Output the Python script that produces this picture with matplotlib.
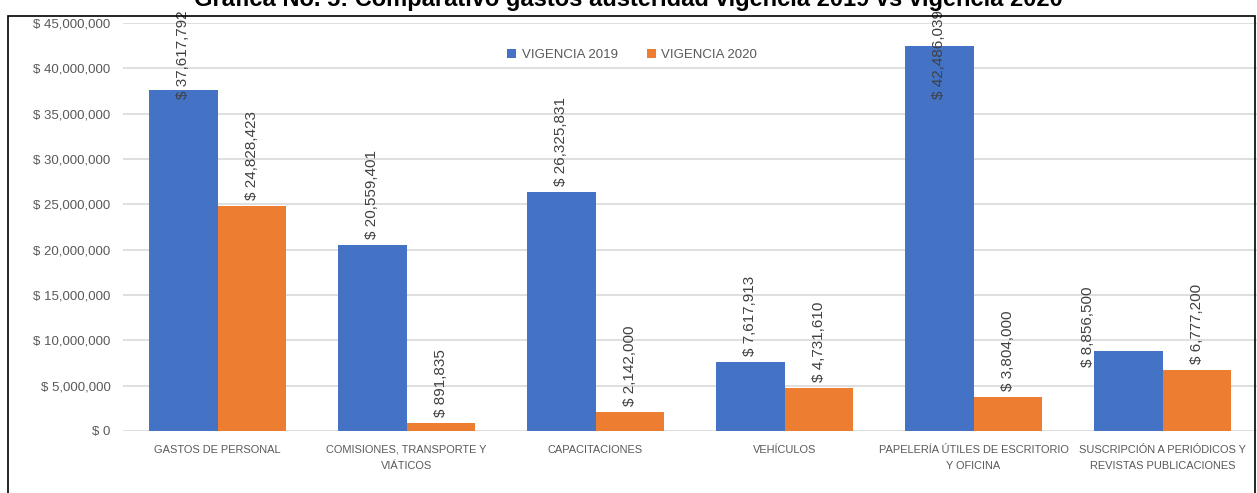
import numpy as np
import matplotlib
matplotlib.use("Agg")
from matplotlib import pyplot as plt
from matplotlib.patches import Rectangle
from matplotlib.ticker import FuncFormatter

plt.rcParams['font.family'] = ['Liberation Sans', 'DejaVu Sans']

# datos
categorias = ["GASTOS DE PERSONAL", "COMISIONES, TRANSPORTE Y\nVIÁTICOS", "CAPACITACIONES",
              "VEHÍCULOS", "PAPELERÍA ÚTILES DE ESCRITORIO\nY OFICINA",
              "SUSCRIPCIÓN A PERIÓDICOS Y\nREVISTAS PUBLICACIONES"]
vigencia_2019 = [37617792, 20559401, 26325831, 7617913, 42486039, 8856500]
vigencia_2020 = [24828423, 891835, 2142000, 4731610, 3804000, 6777200]
series = ["VIGENCIA 2019", "VIGENCIA 2020"]
titulo = "Gráfica No. 5: Comparativo gastos austeridad vigencia 2019 vs vigencia 2020"

azul = "#4472C4"
naranja = "#ED7D31"
gris = "#595959"

fig = plt.figure(figsize=(12.57, 4.93), dpi=100)
ax = fig.add_axes([123/1257, 62/493, 1 - 123/1257, 408/493])

x = np.arange(len(categorias))
w = 0.365
b1 = ax.bar(x - w/2, vigencia_2019, w, color=azul, label=series[0], zorder=3)
b2 = ax.bar(x + w/2, vigencia_2020, w, color=naranja, label=series[1], zorder=3)

ax.set_xlim(-0.5, len(categorias) - 0.5)
ax.set_ylim(0, 45000000)
ax.set_yticks(np.arange(0, 45000001, 5000000))
ax.yaxis.set_major_formatter(FuncFormatter(lambda v, p: "$ {:,.0f}".format(v)))
ax.grid(axis='y', color='#d9d9d9', linewidth=1.2, zorder=0)
for s in ax.spines.values():
    s.set_visible(False)
ax.tick_params(axis='both', length=0, colors=gris)
ax.tick_params(axis='y', pad=9, labelsize=9.5)
ax.tick_params(axis='x', pad=10, labelsize=7.9)
ax.set_xticks(x)
ax.set_xticklabels(categorias, linespacing=1.8)

# etiquetas de datos
px = 45000000 / 408.0
tope = 45000000 + 13 * px
for k, (barras, vals) in enumerate(((b1, vigencia_2019), (b2, vigencia_2020))):
    for i, (r, v) in enumerate(zip(barras, vals)):
        txt = "$ {:,.0f}".format(v)
        xc = r.get_x() + r.get_width() / 2
        largo = len(txt) * 8.0 * px
        if k == 0 and i == 5:
            # etiqueta desplazada a mano en el original
            ax.text(xc - 0.21, v - 16 * px, txt, rotation=90, ha='center', va='bottom',
                    fontsize=11, color='#404040', clip_on=False, zorder=4)
        elif v + 6 * px + largo > tope:
            ax.text(xc, tope, txt, rotation=90, ha='center', va='top',
                    fontsize=11, color='#404040', clip_on=False, zorder=4)
        else:
            ax.text(xc, v + 6 * px, txt, rotation=90, ha='center', va='bottom',
                    fontsize=11, color='#404040', clip_on=False, zorder=4)

leg = ax.legend(loc='upper center', bbox_to_anchor=(0.449, 0.965), ncol=2, frameon=False,
                fontsize=9.5, handlelength=0.7, handleheight=0.7, columnspacing=2.2,
                handletextpad=0.4)
for t in leg.get_texts():
    t.set_color(gris)

# marco del gráfico
fig.patches.append(Rectangle((8/1257, -0.01), 1 - 8/1257 - 2/1257, 1 - 16/493 + 0.01,
                             transform=fig.transFigure, fill=False, edgecolor='black',
                             linewidth=1.2))

fig.text(0.5, 1 - 6/493, titulo, ha='center', va='baseline', fontsize=17,
         fontweight='bold', color='black')

fig.savefig("out.png", dpi=100)
plt.close()
